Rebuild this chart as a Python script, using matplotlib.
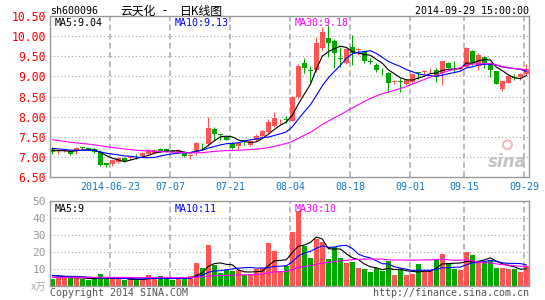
import numpy as np
import pandas as pd
import matplotlib
matplotlib.use("Agg")
import matplotlib.pyplot as plt

# --- data: 80 sessions, 2014-06-09 .. 2014-09-29 ---
date_pos = [10, 20, 30, 40, 50, 60, 69, 79]
date_labels = ["2014-06-23", "07-07", "07-21", "08-04", "08-18", "09-01", "09-15", "09-29"]

opens = [7.20, 7.15, 7.14, 7.14, 7.14, 7.23, 7.21, 7.19, 7.11, 6.85,
         6.82, 6.88, 6.98, 6.96, 7.02, 7.02, 7.06, 7.10, 7.19, 7.19,
         7.15, 7.12, 7.13, 7.03, 7.13, 7.33, 7.32, 7.70, 7.56, 7.50,
         7.34, 7.26, 7.41, 7.30, 7.42, 7.52, 7.63, 7.77, 7.93, 7.93,
         7.90, 8.48, 9.34, 9.17, 9.16, 9.70, 9.96, 9.88, 9.46, 9.32,
         9.74, 9.65, 9.63, 9.38, 9.28, 9.11, 9.08, 8.86, 8.88, 8.80,
         8.87, 9.10, 9.11, 9.15, 9.17, 9.08, 9.34, 9.19, 9.19, 9.24,
         9.62, 9.27, 9.48, 9.32, 9.13, 8.68, 8.84, 8.99, 8.98, 9.06]
closes = [7.11, 7.17, 7.17, 7.08, 7.22, 7.22, 7.20, 7.12, 6.80, 6.81,
          6.91, 6.98, 6.90, 7.00, 7.01, 7.10, 7.17, 7.18, 7.14, 7.13,
          7.13, 7.17, 7.01, 7.05, 7.34, 7.31, 7.72, 7.57, 7.54, 7.43,
          7.22, 7.34, 7.39, 7.40, 7.52, 7.64, 7.87, 7.97, 7.94, 7.91,
          8.48, 9.27, 9.20, 9.13, 9.82, 10.10, 9.82, 9.57, 9.44, 9.67,
          9.57, 9.66, 9.37, 9.36, 9.15, 9.10, 8.84, 8.88, 8.86, 8.90,
          9.06, 9.08, 9.13, 9.17, 8.99, 9.37, 9.22, 9.17, 9.21, 9.70,
          9.32, 9.53, 9.33, 9.16, 8.81, 8.88, 9.01, 8.97, 9.05, 9.18]
highs = [7.24, 7.18, 7.20, 7.16, 7.24, 7.25, 7.23, 7.21, 7.17, 6.86,
         6.94, 7.00, 6.99, 7.02, 7.06, 7.11, 7.20, 7.20, 7.22, 7.21,
         7.17, 7.19, 7.15, 7.07, 7.38, 7.34, 7.98, 7.73, 7.57, 7.51,
         7.36, 7.38, 7.43, 7.42, 7.56, 7.68, 7.93, 8.12, 7.95, 8.02,
         8.51, 9.30, 9.45, 9.25, 9.99, 10.23, 10.27, 9.93, 9.74, 9.70,
         10.03, 9.70, 9.66, 9.45, 9.32, 9.20, 9.12, 8.90, 8.95, 8.92,
         9.08, 9.12, 9.16, 9.20, 9.20, 9.39, 9.36, 9.37, 9.24, 9.72,
         9.66, 9.57, 9.50, 9.35, 9.14, 8.90, 9.03, 9.07, 9.08, 9.31]
lows = [7.07, 7.06, 7.12, 7.05, 7.06, 7.19, 7.17, 7.10, 6.78, 6.74,
        6.78, 6.86, 6.88, 6.93, 6.95, 7.00, 7.04, 7.08, 7.12, 7.11,
        7.11, 7.10, 7.00, 6.94, 7.05, 7.17, 7.27, 7.42, 7.42, 7.41,
        7.20, 7.20, 7.30, 7.28, 7.40, 7.50, 7.60, 7.75, 7.82, 7.85,
        7.88, 8.45, 9.08, 8.87, 9.12, 9.66, 9.49, 9.20, 9.24, 9.30,
        9.28, 9.53, 9.33, 9.30, 9.10, 9.03, 8.62, 8.80, 8.62, 8.78,
        8.83, 8.93, 9.06, 9.08, 8.87, 8.79, 9.20, 9.08, 9.15, 9.24,
        9.28, 9.17, 9.20, 8.99, 8.80, 8.64, 8.83, 8.90, 8.92, 9.04]
# volume in units of 10,000 (x万)
volumes = [4.1, 5.0, 4.5, 4.5, 5.8, 4.1, 3.5, 4.0, 6.8, 4.0,
           4.2, 4.0, 3.5, 4.2, 3.5, 4.0, 6.2, 4.6, 5.6, 4.5,
           3.5, 4.5, 4.2, 5.6, 13.6, 10.4, 24.1, 12.2, 7.6, 9.4,
           9.0, 9.2, 6.4, 7.2, 10.2, 10.6, 25.5, 20.3, 8.7, 12.0,
           32.0, 44.0, 23.7, 16.5, 27.9, 26.0, 15.8, 22.7, 16.5, 13.7,
           14.2, 10.7, 9.8, 8.2, 10.6, 8.8, 14.6, 6.2, 9.2, 6.2,
           6.8, 12.8, 8.8, 8.6, 15.8, 19.0, 13.6, 10.0, 9.2, 20.1,
           18.2, 15.0, 14.2, 15.2, 10.6, 10.6, 10.0, 10.0, 8.2, 11.8]

# sessions before the window (estimated so the moving averages start where the chart shows them)
closes_before = [7.80, 7.78, 7.75, 7.72, 7.70, 7.62, 7.60, 7.55, 7.52, 7.50,
                 7.48, 7.50, 7.46, 7.44, 7.45, 7.42, 7.40, 7.38, 7.35, 7.30,
                 7.28, 7.30, 7.25, 7.24, 7.22, 7.20, 7.18, 7.15, 7.16]
volumes_before = [4.6, 4.2, 4.8, 4.4, 5.0, 4.3, 4.1, 4.7, 4.5, 4.9,
                  4.2, 4.4, 4.6, 4.8, 4.3, 4.5, 4.7, 4.2, 4.4, 4.6,
                  6.0, 6.8, 5.8, 5.5, 6.4, 6.0, 6.8, 6.5, 7.0]

price_ma_text = ["MA5:9.04", "MA10:9.13", "MA30:9.18"]
vol_ma_text = ["MA5:9", "MA10:11", "MA30:10"]

RED = "#ff5555"
GREEN = "#00a800"
MA_COLORS = ["black", "#0000ff", "#ff00ff"]
GRID = "#aaaaaa"
MONO = "DejaVu Sans Mono"
CJK = ["Noto Sans CJK SC", "DejaVu Sans"]
W, H = 545, 300

o, c, hi, lo = map(np.array, (opens, closes, highs, lows))
vol = np.array(volumes)
n = len(c)
x = np.arange(n)
bar_colors = np.where(c >= o, RED, GREEN)

all_close = pd.Series(closes_before + closes)
all_vol = pd.Series(volumes_before + volumes)
price_ma = [all_close.rolling(w).mean().values[-n:] for w in (5, 10, 30)]
vol_ma = [all_vol.rolling(w).mean().values[-n:] for w in (5, 10, 30)]

fig = plt.figure(figsize=(W / 100, H / 100), dpi=100)
ax = fig.add_axes([50 / W, 1 - 177 / H, 479 / W, 161 / H])
axv = fig.add_axes([50 / W, 1 - 286 / H, 479 / W, 85 / H])

xl = (-0.4, 79.45)
for a in (ax, axv):
    a.set_xlim(*xl)
    for s in a.spines.values():
        s.set_color("#999999")
        s.set_linewidth(1.0)
    for p in date_pos:
        a.axvline(p - 0.4, color=GRID, lw=1.1, dashes=(3.8, 2.2), zorder=0)

# --- price panel ---
ax.set_ylim(6.5, 10.5)
for yv in np.arange(7.0, 10.01, 0.5):
    ax.axhline(yv, color=GRID, lw=0.8, dashes=(1, 2.2), zorder=0)
body = np.maximum(np.abs(c - o), 0.018)
ax.vlines(x, lo, hi, colors=bar_colors, lw=0.8, zorder=2)
ax.bar(x, body, bottom=np.minimum(o, c), width=0.78, color=bar_colors, lw=0, zorder=2)
for ma, col in zip(price_ma, MA_COLORS):
    ax.plot(x, ma, color=col, lw=0.8, zorder=3)

yt = np.arange(6.5, 10.51, 0.5)
ax.set_yticks(yt)
ax.set_yticklabels([f"{v:.2f}" for v in yt], color="red", fontsize=8.3, family=MONO)
ax.set_xticks([p - 0.4 for p in date_pos])
ax.set_xticklabels(date_labels, color="#1a7ac8", fontsize=7.2, family=MONO)
ax.tick_params(length=0, pad=3)
ax.tick_params(axis="x", pad=3.5)

for txt, col, px in zip(price_ma_text, MA_COLORS, (55, 175, 295)):
    ax.text((px - 50) / 479, 0.985, txt, transform=ax.transAxes, color=col,
            fontsize=7.2, family=MONO, ha="left", va="top")
ax.text(0.995, 0.04, "sina", transform=ax.transAxes, color="#c4c4c4",
        fontsize=12, style="italic", weight="bold", ha="right", va="bottom", zorder=1)
ax.scatter([0.955], [0.2], s=40, transform=ax.transAxes, facecolors="none",
           edgecolors="#f4b8c0", linewidths=1.5, zorder=1)

# --- volume panel ---
axv.set_ylim(0, 50)
for yv in (10, 20, 30, 40):
    axv.axhline(yv, color=GRID, lw=0.8, dashes=(1, 2.2), zorder=0)
axv.bar(x, vol, width=0.78, color=bar_colors, lw=0, zorder=2)
for ma, col in zip(vol_ma, MA_COLORS):
    axv.plot(x, ma, color=col, lw=0.8, zorder=3)
axv.set_yticks([10, 20, 30, 40, 50])
axv.set_yticklabels(["10", "20", "30", "40", "50"], color="#999999", fontsize=8, family=MONO)
axv.set_xticks([])
axv.tick_params(length=0, pad=3)
for txt, col, px in zip(vol_ma_text, MA_COLORS, (55, 175, 295)):
    axv.text((px - 50) / 479, 0.97, txt, transform=axv.transAxes, color=col,
             fontsize=7.2, family=MONO, ha="left", va="top")

# --- header / footer texts ---
fig.text(50 / W, 1 - 11 / H, "sh600096", fontsize=7.2, family=MONO, va="center")
fig.text(120 / W, 1 - 11 / H, "云天化", fontsize=8.5, family=CJK, va="center")
fig.text(162 / W, 1 - 11 / H, "-", fontsize=8.5, family=CJK, va="center")
fig.text(180 / W, 1 - 11 / H, "日K线图", fontsize=8.5, family=CJK, va="center")
fig.text(529 / W, 1 - 11 / H, "2014-09-29 15:00:00", fontsize=7.2, family=MONO,
         va="center", ha="right")
fig.text(46 / W, 1 - 288 / H, "x万", fontsize=7.5, color="#aaaaaa", family=CJK,
         va="center", ha="right")
fig.text(50 / W, 1 - 293 / H, "Copyright 2014 SINA.COM", fontsize=7.2, family=MONO,
         color="#555555", va="center")
fig.text(529 / W, 1 - 293 / H, "http://finance.sina.com.cn", fontsize=7.2, family=MONO,
         color="#555555", va="center", ha="right")

fig.savefig("out.png", dpi=100, facecolor="white")
